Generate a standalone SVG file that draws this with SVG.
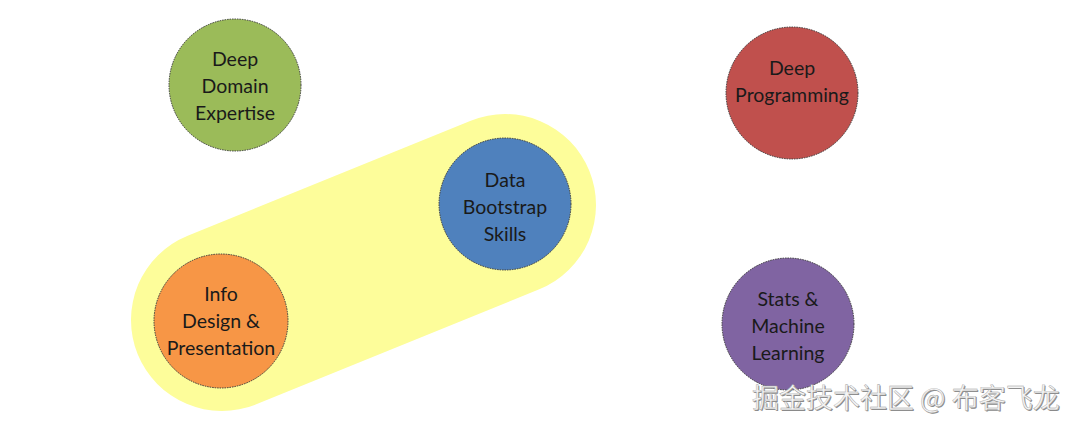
<svg xmlns="http://www.w3.org/2000/svg" width="1080" height="426" viewBox="0 0 1080 426">
<style>
.c{stroke:#3a3a3a;stroke-width:1;stroke-dasharray:1.5 1}
.t{font-family:Lato,"Open Sans",sans-serif;font-size:19.5px;fill:#1a1a1a;text-anchor:middle}
.wm{font-family:"Noto Sans CJK SC",sans-serif;font-size:27px}
</style>
<rect width="1080" height="426" fill="#ffffff"/>
<g id="highlight">
<line x1="222" y1="320" x2="505" y2="205" stroke="#fdfd9a" stroke-width="182" stroke-linecap="round"/>
</g>
<g id="connectors"></g>
<g id="deep-domain">
<circle class="c" cx="235" cy="85" r="66" fill="#9bbb59"/>
<text class="t" x="235" y="66">Deep</text>
<text class="t" x="235" y="93">Domain</text>
<text class="t" x="235" y="120">Expertise</text>
</g>
<g id="deep-programming">
<circle class="c" cx="792" cy="93" r="66" fill="#c0504d"/>
<text class="t" x="792" y="75">Deep</text>
<text class="t" x="792" y="102">Programming</text>
</g>
<g id="data-bootstrap">
<circle class="c" cx="505" cy="204" r="66" fill="#4f81bd"/>
<text class="t" x="505" y="187">Data</text>
<text class="t" x="505" y="214">Bootstrap</text>
<text class="t" x="505" y="241">Skills</text>
</g>
<g id="info-design">
<circle class="c" cx="221" cy="321" r="67" fill="#f79646"/>
<text class="t" x="221" y="301">Info</text>
<text class="t" x="221" y="328">Design &amp;</text>
<text class="t" x="221" y="355">Presentation</text>
</g>
<g id="stats-ml">
<circle class="c" cx="788" cy="324" r="66" fill="#8064a2"/>
<text class="t" x="788" y="306">Stats &amp;</text>
<text class="t" x="788" y="333">Machine</text>
<text class="t" x="788" y="360">Learning</text>
</g>
<g id="watermark">
<text class="wm" x="753" y="409" fill="#8a8a8a">掘金技术社区 @ 布客飞龙</text>
<text class="wm" x="752" y="408" fill="#f4f4f4" stroke="#9a9a9a" stroke-width="0.4">掘金技术社区 @ 布客飞龙</text>
</g>
</svg>
